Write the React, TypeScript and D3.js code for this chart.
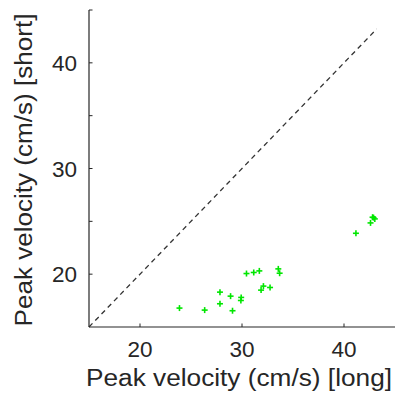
import React from "react";
import * as d3 from "d3";

const longVel = [23.87, 26.34, 27.84, 27.84, 28.88, 29.07, 29.92, 29.89, 30.44, 31.15, 31.7, 31.87, 32.1, 32.75, 33.56, 33.69, 41.17, 42.6, 42.8, 43.02, 42.9];
const shortVel = [16.79, 16.6, 18.3, 17.2, 17.92, 16.54, 17.8, 17.51, 20.06, 20.16, 20.31, 18.49, 18.87, 18.74, 20.5, 20.09, 23.87, 24.85, 25.39, 25.23, 25.35];
const xTicks = [20, 30, 40];
const yTicks = [20, 25, 30, 35, 40, 45];
const yTickLabels = [20, 30, 40];
const domain: [number, number] = [15, 45];
const diagRange = [15, 43.2];

export default function App() {
  const x = d3.scaleLinear().domain(domain).range([89, 395]);
  const y = d3.scaleLinear().domain(domain).range([327, 10]);
  const axisColor = "#262626";
  const font = "Liberation Sans, Arial, Helvetica, sans-serif";
  const s = 3;
  return (
    <svg width={398} height={394} style={{ position: "absolute", left: 0, top: 0, background: "#fff" }}>
      <line x1={x(diagRange[0])} y1={y(diagRange[0])} x2={x(diagRange[1])} y2={y(diagRange[1])}
        stroke="#333" strokeWidth={1.3} strokeDasharray="5,4" />
      {longVel.map((v, i) => (
        <g key={i} stroke="#00e600" strokeWidth={1.6}>
          <line x1={x(v) - s} x2={x(v) + s} y1={y(shortVel[i])} y2={y(shortVel[i])} />
          <line x1={x(v)} x2={x(v)} y1={y(shortVel[i]) - s} y2={y(shortVel[i]) + s} />
        </g>
      ))}
      <line x1={89} y1={y(45)} x2={89} y2={327} stroke={axisColor} strokeWidth={1.2} />
      <line x1={89} y1={327} x2={395} y2={327} stroke={axisColor} strokeWidth={1.2} />
      {xTicks.map((t) => (
        <g key={t}>
          <line x1={x(t)} x2={x(t)} y1={327} y2={323.5} stroke={axisColor} strokeWidth={1} />
          <text x={x(t)} y={357} textAnchor="middle" fontFamily={font} fontSize={22.5} fill={axisColor}>{t}</text>
        </g>
      ))}
      {yTicks.map((t) => (
        <line key={t} x1={89} x2={92.5} y1={y(t)} y2={y(t)} stroke={axisColor} strokeWidth={1} />
      ))}
      {yTickLabels.map((t) => (
        <text key={t} x={77} y={y(t) + 8} textAnchor="end" fontFamily={font} fontSize={22.5} fill={axisColor}>{t}</text>
      ))}
      <text x={239} y={386} textAnchor="middle" fontFamily={font} fontSize={23} fill={axisColor}
        textLength={306} lengthAdjust="spacingAndGlyphs">Peak velocity (cm/s) [long]</text>
      <text transform="translate(32,170) rotate(-90)" textAnchor="middle" fontFamily={font} fontSize={23} fill={axisColor}
        textLength={313} lengthAdjust="spacingAndGlyphs">Peak velocity (cm/s) [short]</text>
    </svg>
  );
}
